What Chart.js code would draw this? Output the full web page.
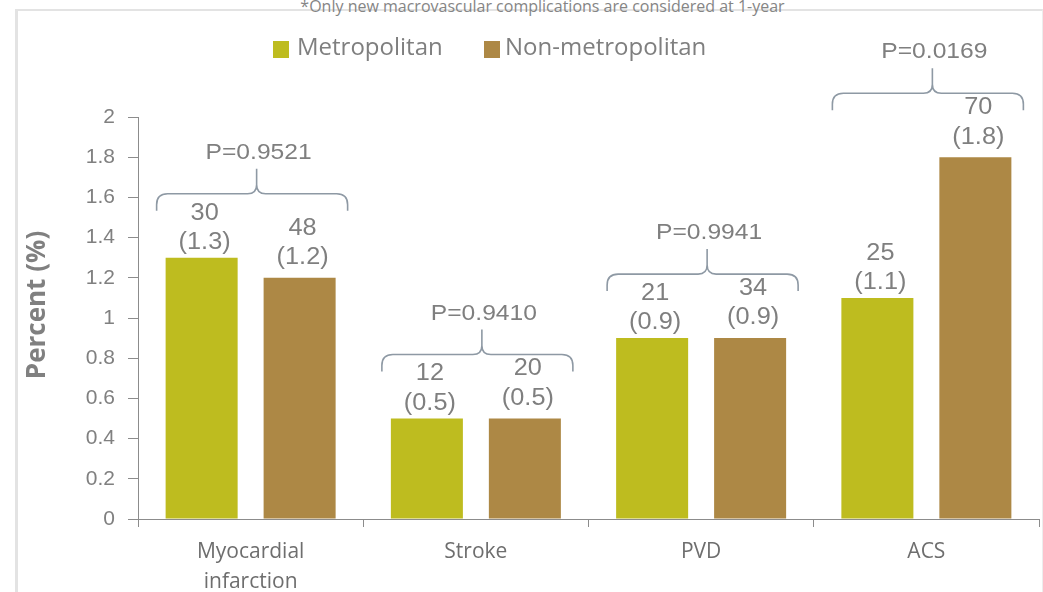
<!DOCTYPE html>
<html>
<head>
<meta charset="utf-8">
<script src="https://cdn.jsdelivr.net/npm/chart.js@4.4.1/dist/chart.umd.min.js"></script>
<style>
  html, body { margin: 0; padding: 0; background: #fff; }
  #wrap { position: relative; width: 1043px; height: 592px; overflow: hidden; }
  #frame {
    position: absolute; left: 15px; top: 9px; right: 0; bottom: -5px;
    border-top: 2px solid #e3e3e3; border-left: 3px solid #e3e3e3; border-right: 1px solid #ededed;
  }
  #note {
    position: absolute; left: 0; width: 1085px; top: -2px; text-align: center;
    font: 16px/16px "Open Sans", sans-serif; color: #858585; white-space: nowrap;
  }
  canvas { position: absolute; left: 0; top: 0; }
</style>
</head>
<body>
<div id="wrap">
  <div id="frame"></div>
  <div id="note">*Only new macrovascular complications are considered at 1-year</div>
  <canvas id="chart" width="1043" height="592"></canvas>
</div>
<script>
// Categories and series
const categories = [['Myocardial', 'infarction'], 'Stroke', 'PVD', 'ACS'];
const seriesNames = ['Metropolitan', 'Non-metropolitan'];
const seriesColors = ['#bebc1f', '#ad8845'];

// Percent of patients (bar heights)
const metroPct = [1.3, 0.5, 0.9, 1.1];
const nonMetroPct = [1.2, 0.5, 0.9, 1.8];

// Patient counts shown above each bar
const metroCounts = [30, 12, 21, 25];
const nonMetroCounts = [48, 20, 34, 70];

// P-values per category
const pValues = ['0.9521', '0.9410', '0.9941', '0.0169'];

// Value axis
const yMin = 0;
const yMax = 2;
const yStep = 0.2;
const yTitle = 'Percent (%)';

const counts = [metroCounts, nonMetroCounts];
const GRAY = '#7f7f7f';
const AXIS = '#8c8c8c';
const BRACE = '#8e99a4';
const numFont = '"Liberation Sans", Arial, sans-serif';
const sansFont = '"Open Sans", sans-serif';

// Text drawn slightly widened, centred on (x, y)
function wideText(ctx, text, x, y, sx) {
  ctx.save();
  ctx.translate(x, y);
  ctx.scale(sx, 1);
  ctx.fillText(text, 0, 0);
  ctx.restore();
}

// Counts and percentages above each bar
const barLabels = {
  id: 'barLabels',
  afterDatasetsDraw(chart) {
    const ctx = chart.ctx;
    ctx.save();
    ctx.font = '23px ' + numFont;
    ctx.fillStyle = GRAY;
    ctx.textAlign = 'center';
    ctx.textBaseline = 'middle';
    chart.data.datasets.forEach((ds, di) => {
      const lift = di === 0 ? 15 : 20;
      chart.getDatasetMeta(di).data.forEach((bar, i) => {
        const y2 = bar.y - lift;
        wideText(ctx, '(' + ds.data[i].toFixed(1) + ')', bar.x + 3, y2, 1.1);
        wideText(ctx, String(counts[di][i]), bar.x + 3, y2 - 29.5, 1.1);
      });
    });
    ctx.restore();
  }
};

// Curly braces with P-values over each pair of bars
const braces = {
  id: 'braces',
  afterDraw(chart) {
    const ctx = chart.ctx;
    const xs = chart.scales.x, ys = chart.scales.y;
    ctx.save();
    categories.forEach((c, i) => {
      const cx = xs.getPixelForValue(i);
      const top = ys.getPixelForValue(Math.max(metroPct[i], nonMetroPct[i]));
      const left = cx - 94, right = cx + 97, mid = cx + 6;
      const bottom = top - 47;
      const horiz = bottom - 17;
      const cusp = horiz - 25;
      const r = 11, rc = 9;
      ctx.strokeStyle = BRACE;
      ctx.lineWidth = 1.6;
      ctx.beginPath();
      ctx.moveTo(left, bottom);
      ctx.lineTo(left, horiz + r);
      ctx.quadraticCurveTo(left, horiz, left + r, horiz);
      ctx.lineTo(mid - rc, horiz);
      ctx.quadraticCurveTo(mid, horiz, mid, horiz - rc);
      ctx.lineTo(mid, cusp);
      ctx.moveTo(right, bottom);
      ctx.lineTo(right, horiz + r);
      ctx.quadraticCurveTo(right, horiz, right - r, horiz);
      ctx.lineTo(mid + rc, horiz);
      ctx.quadraticCurveTo(mid, horiz, mid, horiz - rc);
      ctx.stroke();
      ctx.font = '22px ' + numFont;
      ctx.fillStyle = GRAY;
      ctx.textAlign = 'center';
      ctx.textBaseline = 'middle';
      wideText(ctx, 'P=' + pValues[i], mid + 2, cusp - 16, 1.12);
    });
    ctx.restore();
  }
};

// Legend row and rotated axis title
const decorations = {
  id: 'decorations',
  afterDraw(chart) {
    const ctx = chart.ctx;
    ctx.save();
    const items = [{ x: 273, tx: 297 }, { x: 484, tx: 505 }];
    ctx.font = '24px ' + sansFont;
    ctx.textBaseline = 'middle';
    ctx.textAlign = 'left';
    chart.data.datasets.forEach((ds, di) => {
      ctx.fillStyle = ds.backgroundColor;
      ctx.fillRect(items[di].x, 41, 16, 17);
      ctx.fillStyle = GRAY;
      ctx.fillText(ds.label, items[di].tx, 48);
    });
    ctx.translate(38, 305);
    ctx.rotate(-Math.PI / 2);
    ctx.font = 'bold 26px ' + sansFont;
    ctx.textAlign = 'center';
    ctx.fillStyle = '#808080';
    ctx.fillText(yTitle, 0, 0);
    ctx.restore();
  }
};

new Chart(document.getElementById('chart'), {
  type: 'bar',
  data: {
    labels: categories,
    datasets: [
      { label: seriesNames[0], data: metroPct, backgroundColor: seriesColors[0] },
      { label: seriesNames[1], data: nonMetroPct, backgroundColor: seriesColors[1] }
    ]
  },
  options: {
    responsive: false,
    animation: false,
    categoryPercentage: 0.87,
    barPercentage: 0.735,
    layout: { padding: { top: 117, right: 4, left: 0, bottom: 0 } },
    plugins: { legend: { display: false }, tooltip: { enabled: false } },
    scales: {
      x: {
        grid: { drawOnChartArea: false, offset: true, tickLength: 8, color: AXIS },
        border: { display: true, color: AXIS },
        ticks: {
          font: { family: sansFont, size: 21, lineHeight: 30 / 21 },
          color: '#6e6e6e', padding: 10, maxRotation: 0, autoSkip: false
        },
        afterFit(s) { s.height = 73; }
      },
      y: {
        min: yMin, max: yMax,
        grid: { drawOnChartArea: false, tickLength: 10, color: AXIS },
        border: { display: true, color: AXIS },
        ticks: {
          stepSize: yStep, padding: 13, color: '#808080',
          font: { family: numFont, size: 21 },
          callback: v => String(+v.toFixed(1))
        },
        afterFit(s) { s.width = 138; }
      }
    }
  },
  plugins: [barLabels, braces, decorations]
});
</script>
</body>
</html>
